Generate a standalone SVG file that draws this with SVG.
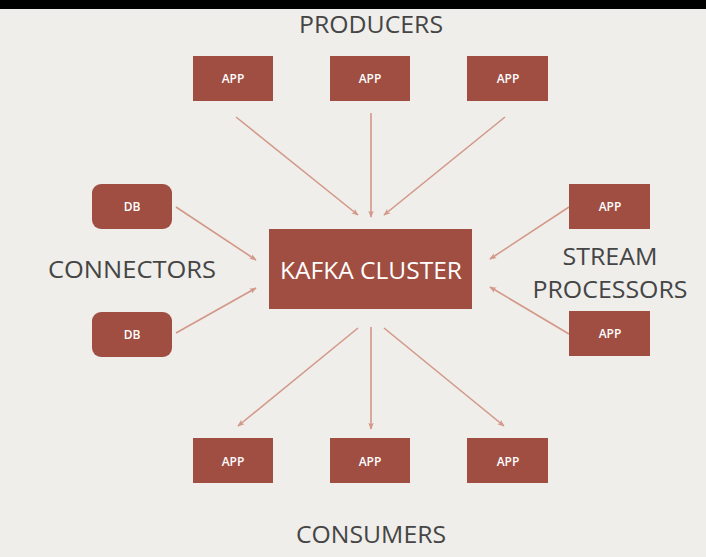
<svg xmlns="http://www.w3.org/2000/svg" width="706" height="557" viewBox="0 0 706 557">
<style>
.box{fill:#a04e41}
.lbl{font-family:"Open Sans","Liberation Sans",sans-serif;fill:#ffffff;text-anchor:middle}
.small{font-size:12px;font-weight:600}
.title{font-family:"Open Sans","Liberation Sans",sans-serif;fill:#454545;font-size:24px;text-anchor:middle}
.conn{stroke:#d39888;stroke-width:1.6;fill:none;marker-end:url(#ah)}
</style>
<defs>
<marker id="ah" viewBox="0 0 10 10" refX="9" refY="5" markerWidth="7" markerHeight="7" orient="auto" markerUnits="userSpaceOnUse">
<path d="M0,1 L10,5 L0,9 L2.5,5 Z" fill="#d39888"/>
</marker>
</defs>
<rect x="0" y="0" width="706" height="557" fill="#efeeeb"/>
<rect x="0" y="0" width="706" height="9" fill="#000000"/>

<text class="title" x="371" y="33" textLength="144" lengthAdjust="spacingAndGlyphs">PRODUCERS</text>
<text class="title" x="132" y="278" textLength="168" lengthAdjust="spacingAndGlyphs">CONNECTORS</text>
<text class="title" x="610" y="265" textLength="95" lengthAdjust="spacingAndGlyphs">STREAM</text>
<text class="title" x="610" y="298" textLength="155" lengthAdjust="spacingAndGlyphs">PROCESSORS</text>
<text class="title" x="371" y="543" textLength="150" lengthAdjust="spacingAndGlyphs">CONSUMERS</text>

<g id="connectors">
<line class="conn" x1="236" y1="117" x2="358" y2="215"/>
<line class="conn" x1="371" y1="113" x2="371" y2="217"/>
<line class="conn" x1="505" y1="117" x2="384" y2="215"/>
<line class="conn" x1="176" y1="207" x2="256" y2="260"/>
<line class="conn" x1="176" y1="333" x2="256" y2="288"/>
<line class="conn" x1="569" y1="207" x2="490" y2="259"/>
<line class="conn" x1="569" y1="334" x2="490" y2="287"/>
<line class="conn" x1="358" y1="328" x2="238" y2="426"/>
<line class="conn" x1="371" y1="327" x2="371" y2="429"/>
<line class="conn" x1="384" y1="328" x2="504" y2="426"/>
</g>

<g id="kafka">
<rect class="box" x="269" y="229" width="203" height="80"/>
<text class="lbl" x="371" y="279" font-size="23" textLength="182" lengthAdjust="spacingAndGlyphs">KAFKA CLUSTER</text>
</g>

<g id="producer1"><rect class="box" x="193" y="56" width="80" height="45"/><text class="lbl small" x="233" y="83">APP</text></g>
<g id="producer2"><rect class="box" x="330" y="56" width="80" height="45"/><text class="lbl small" x="370" y="83">APP</text></g>
<g id="producer3"><rect class="box" x="467" y="56" width="81" height="45"/><text class="lbl small" x="508" y="83">APP</text></g>

<g id="db1"><rect class="box" x="92" y="184" width="80" height="45" rx="9"/><text class="lbl small" x="132" y="211">DB</text></g>
<g id="db2"><rect class="box" x="92" y="312" width="80" height="45" rx="9"/><text class="lbl small" x="132" y="339">DB</text></g>

<g id="stream1"><rect class="box" x="569" y="184" width="81" height="45"/><text class="lbl small" x="610" y="211">APP</text></g>
<g id="stream2"><rect class="box" x="569" y="311" width="81" height="45"/><text class="lbl small" x="610" y="338">APP</text></g>

<g id="consumer1"><rect class="box" x="193" y="438" width="80" height="45"/><text class="lbl small" x="233" y="466">APP</text></g>
<g id="consumer2"><rect class="box" x="330" y="438" width="80" height="45"/><text class="lbl small" x="370" y="466">APP</text></g>
<g id="consumer3"><rect class="box" x="467" y="438" width="81" height="45"/><text class="lbl small" x="508" y="466">APP</text></g>
</svg>
